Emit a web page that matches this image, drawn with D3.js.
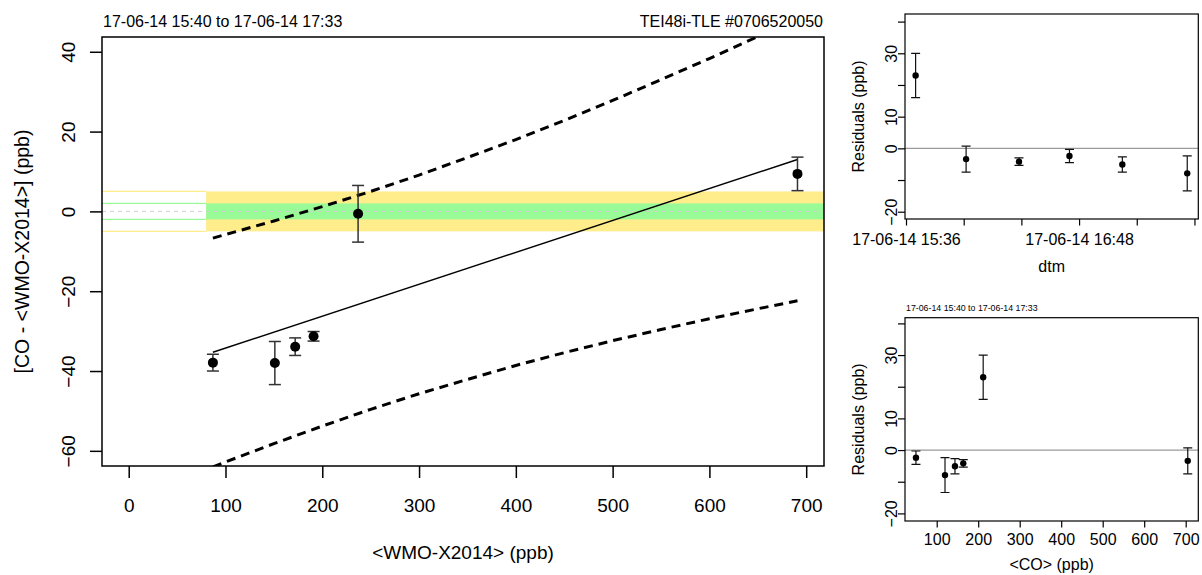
<!DOCTYPE html>
<html>
<head>
<meta charset="utf-8">
<script src="https://cdn.jsdelivr.net/npm/d3@7"></script>
<style>
  html, body { margin: 0; padding: 0; background: #fff; }
  svg { display: block; font-family: "Liberation Sans", Arial, Helvetica, sans-serif; }
</style>
</head>
<body>
<svg id="chart" width="1202" height="575"></svg>
<script>
// ---------------- data ----------------
const titleRange = "17-06-14 15:40 to 17-06-14 17:33";
const instrument = "TEI48i-TLE #0706520050";

// main panel: reference (WMO-X2014) vs. difference CO - WMO
const wmo      = [87, 151, 172, 191, 237, 691];
const diff     = [-37.9, -38.0, -33.9, -31.3, -0.6, 9.4];
const diffErr  = [2.1, 5.4, 2.2, 1.2, 7.1, 4.2];

// regression line
const fitX = [87, 691];
const fitY = [-35.3, 13.0];

// prediction band (dashed)
const bandX     = [87, 100, 150, 200, 250, 300, 350, 400, 450, 500, 550, 600, 650, 691];
const bandUpper = [-6.7, -5.8, -2.4, 1.2, 5.0, 9.1, 13.5, 18.0, 22.8, 27.8, 33.0, 38.3, 43.8, 48.4];
const bandLower = [-64.0, -62.8, -58.2, -53.8, -49.6, -45.7, -42.1, -38.6, -35.4, -32.4, -29.6, -26.9, -24.4, -22.4];

// compatibility goals (ppb) and where the filled band starts
const goalInner = 2;
const goalOuter = 5;
const goalStart = 80;

const mainXTicks = [0, 100, 200, 300, 400, 500, 600, 700];
const mainYTicks = [-60, -40, -20, 0, 20, 40];

// residual panels
const resTime = ["15:40", "16:01", "16:23", "16:44", "17:06", "17:33"];
const resVal  = [23.0, -3.4, -4.2, -2.4, -5.1, -7.9];
const resErr  = [7.0, 4.1, 1.2, 2.1, 2.4, 5.5];
const coMean  = [212, 705, 164, 50, 144, 120];

const resYTicks = [-20, -10, 0, 10, 20, 30, 40];
const resYLabels = [-20, 0, 10, 30];
const timeTicks = ["15:36", "16:00", "16:24", "16:48", "17:12", "17:36"];
const timeTickLabels = ["15:36", "16:48"];
const coTicks = [100, 200, 300, 400, 500, 600, 700];

// ---------------- drawing ----------------
const svg = d3.select("#chart");
const day = "2014-06-17T";
const parseT = d3.timeParse("%Y-%m-%dT%H:%M");
const fmtT = d3.timeFormat("%d-%m-%y %H:%M");

// ===== main panel =====
const M = { l: 102, r: 824, t: 37, b: 466 };
const x = d3.scaleLinear().domain([-27.6, 718.4]).range([M.l, M.r]);
const y = d3.scaleLinear().domain([-63.8, 43.7]).range([M.b, M.t]);

svg.append("clipPath").attr("id", "clipMain")
  .append("rect").attr("x", M.l).attr("y", M.t).attr("width", M.r - M.l).attr("height", M.b - M.t);

const gm = svg.append("g").attr("clip-path", "url(#clipMain)");

// filled goal bands
gm.append("rect")
  .attr("x", x(goalStart)).attr("width", M.r - x(goalStart))
  .attr("y", y(goalOuter)).attr("height", y(-goalOuter) - y(goalOuter))
  .attr("fill", "#FFEC8B");
gm.append("rect")
  .attr("x", x(goalStart)).attr("width", M.r - x(goalStart))
  .attr("y", y(goalInner)).attr("height", y(-goalInner) - y(goalInner))
  .attr("fill", "#98FB98");
// thin outline lines left of the band start
[[goalOuter, "#FFEC8B"], [-goalOuter, "#FFEC8B"], [goalInner, "#98FB98"], [-goalInner, "#98FB98"]].forEach(([v, c]) => {
  gm.append("line")
    .attr("x1", M.l).attr("x2", x(goalStart))
    .attr("y1", y(v)).attr("y2", y(v))
    .attr("stroke", c).attr("stroke-width", 1.2);
});
// zero dashed line
gm.append("line")
  .attr("x1", M.l).attr("x2", M.r).attr("y1", y(0)).attr("y2", y(0))
  .attr("stroke", "#cfcfcf").attr("stroke-width", 1).attr("stroke-dasharray", "4,4");

// prediction band lines
const lineGen = d3.line().x(d => x(d[0])).y(d => y(d[1]));
gm.append("path")
  .attr("d", lineGen(bandX.map((v, i) => [v, bandUpper[i]])))
  .attr("fill", "none").attr("stroke", "#000").attr("stroke-width", 3)
  .attr("stroke-dasharray", "9,6");
gm.append("path")
  .attr("d", lineGen(bandX.map((v, i) => [v, bandLower[i]])))
  .attr("fill", "none").attr("stroke", "#000").attr("stroke-width", 3)
  .attr("stroke-dasharray", "9,6");

// fit line
gm.append("path")
  .attr("d", lineGen(fitX.map((v, i) => [v, fitY[i]])))
  .attr("fill", "none").attr("stroke", "#000").attr("stroke-width", 1.5);

// error bars + points
wmo.forEach((v, i) => {
  const cx = x(v), y1 = y(diff[i] + diffErr[i]), y2 = y(diff[i] - diffErr[i]);
  const g = gm.append("g").attr("stroke", "#333").attr("stroke-width", 1.5);
  g.append("line").attr("x1", cx).attr("x2", cx).attr("y1", y1).attr("y2", y2);
  g.append("line").attr("x1", cx - 6).attr("x2", cx + 6).attr("y1", y1).attr("y2", y1);
  g.append("line").attr("x1", cx - 6).attr("x2", cx + 6).attr("y1", y2).attr("y2", y2);
  gm.append("circle").attr("cx", cx).attr("cy", y(diff[i])).attr("r", 5).attr("fill", "#000");
});

// box
svg.append("rect").attr("x", M.l).attr("y", M.t).attr("width", M.r - M.l).attr("height", M.b - M.t)
  .attr("fill", "none").attr("stroke", "#000").attr("stroke-width", 1.5);

// axes
const xAxis = svg.append("g").attr("transform", `translate(0,${M.b})`)
  .call(d3.axisBottom(x).tickValues(mainXTicks).tickSize(12).tickPadding(0).tickFormat(d3.format("d")));
xAxis.select(".domain").remove();
xAxis.selectAll(".tick line").attr("stroke", "#000").attr("stroke-width", 1.5);
xAxis.selectAll(".tick text").attr("y", 45.5).attr("dy", null)
  .style("font-size", "19px").attr("fill", "#000");

const yAxis = svg.append("g").attr("transform", `translate(${M.l},0)`)
  .call(d3.axisLeft(y).tickValues(mainYTicks).tickSize(12).tickFormat(d3.format("d")));
yAxis.select(".domain").remove();
yAxis.selectAll(".tick line").attr("stroke", "#000").attr("stroke-width", 1.5);
yAxis.selectAll(".tick text")
  .attr("x", null).attr("dy", null)
  .attr("transform", "translate(-27,0) rotate(-90)")
  .attr("text-anchor", "middle")
  .style("font-size", "19px").attr("fill", "#000");

// titles & labels
svg.append("text").attr("x", 103).attr("y", 27).style("font-size", "16px").text(titleRange);
svg.append("text").attr("x", 823).attr("y", 27).attr("text-anchor", "end").style("font-size", "16px").text(instrument);
svg.append("text").attr("x", (M.l + M.r) / 2).attr("y", 559).attr("text-anchor", "middle")
  .style("font-size", "19px").text("<WMO-X2014> (ppb)");
svg.append("text").attr("transform", `translate(29,${(M.t + M.b) / 2}) rotate(-90)`)
  .attr("text-anchor", "middle").style("font-size", "19.5px").text("[CO - <WMO-X2014>] (ppb)");

// ===== residual panels =====
function residualPanel(opt) {
  const { l, r, t, b, xs, ys, xVals, xTicks, xLabelSet, xFmt, xLabel, xLabelY, tickLabelY, title } = opt;
  const id = "clip" + Math.round(t);
  svg.append("clipPath").attr("id", id)
    .append("rect").attr("x", l).attr("y", t).attr("width", r - l).attr("height", b - t);
  const g = svg.append("g").attr("clip-path", `url(#${id})`);
  g.append("line").attr("x1", l).attr("x2", r).attr("y1", ys(0)).attr("y2", ys(0))
    .attr("stroke", "#9a9a9a").attr("stroke-width", 1.2);
  xVals.forEach((v, i) => {
    const cx = xs(v), y1 = ys(resVal[i] + resErr[i]), y2 = ys(resVal[i] - resErr[i]);
    const e = g.append("g").attr("stroke", "#111").attr("stroke-width", 1.2);
    e.append("line").attr("x1", cx).attr("x2", cx).attr("y1", y1).attr("y2", y2);
    e.append("line").attr("x1", cx - 4.5).attr("x2", cx + 4.5).attr("y1", y1).attr("y2", y1);
    e.append("line").attr("x1", cx - 4.5).attr("x2", cx + 4.5).attr("y1", y2).attr("y2", y2);
    g.append("circle").attr("cx", cx).attr("cy", ys(resVal[i])).attr("r", 3.2).attr("fill", "#000");
  });
  svg.append("rect").attr("x", l).attr("y", t).attr("width", r - l).attr("height", b - t)
    .attr("fill", "none").attr("stroke", "#000").attr("stroke-width", 1.2);

  const xa = svg.append("g").attr("transform", `translate(0,${b})`)
    .call(d3.axisBottom(xs).tickValues(xTicks).tickSize(6.5)
      .tickFormat(d => xLabelSet(d) ? xFmt(d) : ""));
  xa.select(".domain").remove();
  xa.selectAll(".tick line").attr("stroke", "#000").attr("stroke-width", 1.2);
  xa.selectAll(".tick text").attr("y", tickLabelY - b).attr("dy", null)
    .style("font-size", "16px").attr("fill", "#000");

  const ya = svg.append("g").attr("transform", `translate(${l},0)`)
    .call(d3.axisLeft(ys).tickValues(resYTicks).tickSize(7)
      .tickFormat(d => resYLabels.includes(d) ? d3.format("d")(d) : ""));
  ya.select(".domain").remove();
  ya.selectAll(".tick line").attr("stroke", "#000").attr("stroke-width", 1.2);
  ya.selectAll(".tick text").attr("x", null).attr("dy", null)
    .attr("transform", "translate(-8,0) rotate(-90)").attr("text-anchor", "middle")
    .style("font-size", "16px").attr("fill", "#000");

  svg.append("text").attr("x", (l + r) / 2).attr("y", xLabelY).attr("text-anchor", "middle")
    .style("font-size", "16px").text(xLabel);
  svg.append("text").attr("transform", `translate(864,${(t + b) / 2}) rotate(-90)`)
    .attr("text-anchor", "middle").style("font-size", "16px").text("Residuals (ppb)");
  if (title) {
    svg.append("text").attr("x", l + 1).attr("y", t - 7).style("font-size", "8.8px").text(title);
  }
}

// time residuals (top right)
const T = { l: 905, r: 1198.3, t: 14, b: 219 };
const xt = d3.scaleTime()
  .domain([new Date(2014, 5, 17, 15, 35, 35), new Date(2014, 5, 17, 17, 37, 36)])
  .range([T.l, T.r]);
const yt = d3.scaleLinear().domain([-22.3, 42.4]).range([T.b, T.t]);
residualPanel({
  l: T.l, r: T.r, t: T.t, b: T.b, xs: xt, ys: yt,
  xVals: resTime.map(s => parseT(day + s)),
  xTicks: timeTicks.map(s => parseT(day + s)),
  xLabelSet: d => timeTickLabels.includes(d3.timeFormat("%H:%M")(d)),
  xFmt: fmtT, xLabel: "dtm", xLabelY: 271.5, tickLabelY: 244.5, title: null
});

// concentration residuals (bottom right)
const B = { l: 905, r: 1198.3, t: 317.7, b: 521 };
const xc = d3.scaleLinear().domain([23.6, 730.4]).range([B.l, B.r]);
const yc = d3.scaleLinear().domain([-22.4, 41.8]).range([B.b, B.t]);
residualPanel({
  l: B.l, r: B.r, t: B.t, b: B.b, xs: xc, ys: yc,
  xVals: coMean, xTicks: coTicks,
  xLabelSet: () => true, xFmt: d3.format("d"),
  xLabel: "<CO> (ppb)", xLabelY: 569.5, tickLabelY: 545, title: titleRange
});
</script>
</body>
</html>
